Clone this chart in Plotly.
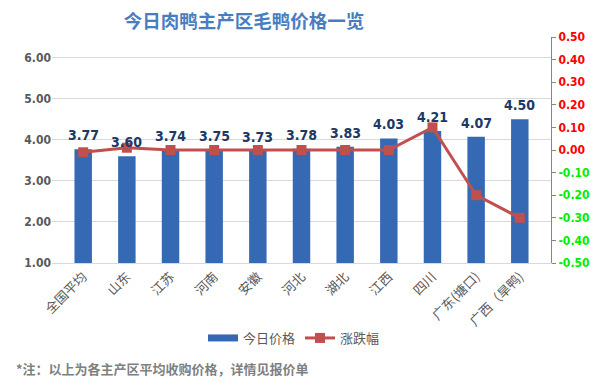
import plotly.graph_objects as go

categories = ["全国平均", "山东", "江苏", "河南", "安徽", "河北", "湖北", "江西", "四川", "广东(塘口)", "广西（旱鸭)"]
prices = [3.77, 3.60, 3.74, 3.75, 3.73, 3.78, 3.83, 4.03, 4.21, 4.07, 4.50]
changes = [-0.01, 0.01, 0.00, 0.00, 0.00, 0.00, 0.00, 0.00, 0.10, -0.20, -0.30]
left_ticks = [1, 2, 3, 4, 5, 6]
right_ticks = [0.5, 0.4, 0.3, 0.2, 0.1, 0.0, -0.1, -0.2, -0.3, -0.4, -0.5]

FONT = "Noto Sans CJK SC"
NUM = "Liberation Sans Narrow, DejaVu Sans Condensed, Liberation Sans"
GREY = "#595959"
BAR = "#3569b3"

fig = go.Figure()
fig.add_trace(go.Bar(
    x=categories, y=prices, name="今日价格",
    marker=dict(color=BAR, line=dict(width=0)),
    width=0.4, yaxis="y", showlegend=False,
))
# legend stand-in for the bar series (wide rectangle swatch)
fig.add_trace(go.Scatter(
    x=[categories[0]], y=[None], name="今日价格", mode="lines",
    line=dict(color=BAR, width=7), yaxis="y",
))
fig.add_trace(go.Scatter(
    x=categories, y=changes, name="涨跌幅", yaxis="y2",
    mode="lines+markers",
    line=dict(color="#c0504d", width=3),
    marker=dict(symbol="square", size=10, color="#c0504d"),
))

for c, p in zip(categories, prices):
    fig.add_annotation(x=c, y=p, yref="y", text=f"<b>{p:.2f}</b>", showarrow=False,
                       yshift=14, yanchor="middle",
                       font=dict(family=NUM, size=14, color="#203864"))

right_text = []
for v in right_ticks:
    col = "#ff0000" if v >= 0 else "#00ee00"
    right_text.append(f"<span style='color:{col}'><b>{v:.2f}</b></span>")

fig.update_layout(
    width=593, height=387,
    margin=dict(l=52, r=42, t=37, b=124, autoexpand=False),
    paper_bgcolor="white", plot_bgcolor="white",
    font=dict(family=FONT, color=GREY),
    title=dict(text="<b>今日肉鸭主产区毛鸭价格一览</b>", x=244 / 593, xanchor="center",
               y=1 - 22 / 387, yanchor="middle",
               font=dict(family=FONT, size=18.5, color="#4a7dc0")),
    xaxis=dict(tickangle=-45, tickfont=dict(size=13, color=GREY, family=FONT),
               showline=True, linecolor="#d9d9d9", linewidth=1, ticks="",
               showgrid=False, automargin=False),
    yaxis=dict(range=[1, 6.5], tickvals=left_ticks,
               ticktext=[f"<b>{v:.2f}</b>" for v in left_ticks],
               tickfont=dict(size=12, color=GREY, family=NUM),
               showgrid=True, gridcolor="#d9d9d9", gridwidth=1,
               zeroline=False, showline=False, ticks="", automargin=False),
    yaxis2=dict(range=[-0.5, 0.5], overlaying="y", side="right",
                tickvals=right_ticks, ticktext=right_text,
                tickfont=dict(size=12, family=NUM),
                showgrid=False, zeroline=False,
                showline=True, linecolor="#868686", linewidth=1,
                ticks="outside", ticklen=4, tickcolor="#868686", automargin=False),
    legend=dict(orientation="h", x=(294 - 52) / 499, xanchor="center",
                y=1 - (338 - 37) / 226, yanchor="middle",
                font=dict(size=13, color=GREY, family=FONT),
                itemwidth=30, bgcolor="rgba(0,0,0,0)"),
    showlegend=True,
    bargap=0.6,
)

fig.add_annotation(xref="paper", yref="paper", x=(14 - 52) / 499, xanchor="left",
                   y=1 - (368 - 37) / 226, yanchor="middle", showarrow=False,
                   text="<b>*注：以上为各主产区平均收购价格，详情见报价单</b>",
                   font=dict(family=FONT, size=13, color="#7f7f7f"))

fig.write_html("out.html", config={"displayModeBar": False},
               post_script="document.body.style.margin='0';")
